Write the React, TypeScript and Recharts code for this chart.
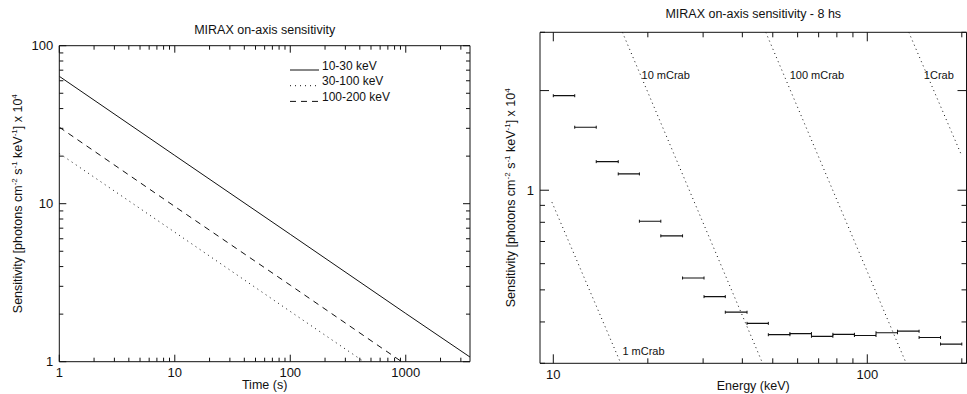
import React from 'react';
import { ComposedChart, Line, XAxis, YAxis, Legend, ReferenceDot } from 'recharts';

const FONT = '"Liberation Sans", Arial, Helvetica, sans-serif';
const INK = '#111';

// left panel: sensitivity vs exposure time
const exposureTimes = [1, 10, 100, 1000, 3600];
const sens10to30 = [64, 20.2, 6.4, 2.02, 1.07];
const sens30to100 = [20.8, 6.6, 2.08, 0.66, 0.35];
const sens100to200 = [30.5, 9.6, 3.05, 0.96, 0.51];

const timeTicks = [1, 2, 3, 4, 5, 6, 7, 8, 9, 10, 20, 30, 40, 50, 60, 70, 80, 90, 100, 200, 300, 400, 500, 600, 700, 800, 900, 1000, 2000, 3000];
const timeMajors = [1, 10, 100, 1000];
const leftSensTicks = [1, 2, 3, 4, 5, 6, 7, 8, 9, 10, 20, 30, 40, 50, 60, 70, 80, 90, 100];
const leftSensMajors = [1, 10, 100];

// right panel: 8 hs spectrum sensitivity
const binEdges = [10, 11.7, 13.7, 16.1, 18.8, 22.0, 25.8, 30.2, 35.3, 41.4, 48.4, 56.7, 66.4, 77.7, 91.0, 106.6, 124.8, 146.2, 171.1, 200];
const binSens = [1.93, 1.55, 1.22, 1.12, 0.806, 0.728, 0.543, 0.477, 0.428, 0.396, 0.366, 0.369, 0.362, 0.367, 0.364, 0.371, 0.375, 0.359, 0.343];

const crab1mE = [9.9, 16.4];
const crab1mS = [0.92, 0.3];
const crab10mE = [16.6, 46.4];
const crab10mS = [3, 0.3];
const crab100mE = [47.5, 133];
const crab100mS = [3, 0.3];
const crab1E = [135.6, 200];
const crab1S = [3, 1.27];

const crabLabels = [
  { text: '1 mCrab', e: 16.6, s: 0.326 },
  { text: '10 mCrab', e: 19.1, s: 2.23 },
  { text: '100 mCrab', e: 56.6, s: 2.23 },
  { text: '1Crab', e: 151.4, s: 2.23 },
];

const energyTicks = [10, 20, 30, 40, 50, 60, 70, 80, 90, 100, 200];
const energyMajors = [10, 100];
const rightSensTicks = [0.3, 0.4, 0.5, 0.6, 0.7, 0.8, 0.9, 1, 2, 3];
const rightSensMajors = [1, 2];
const rightSensLabelled = [1];

const leftRows = exposureTimes.map((t, i) => ({ t, a: sens10to30[i], b: sens30to100[i], c: sens100to200[i] }));

const binRows: Array<{ e: number; s: number | null }> = [];
binSens.forEach((s, i) => {
  binRows.push({ e: binEdges[i], s });
  binRows.push({ e: binEdges[i + 1], s });
  binRows.push({ e: binEdges[i + 1], s: null });
});

const pairRows = (es: number[], ss: number[]) => es.map((e, i) => ({ e, s: ss[i] }));

const legendItems = [
  { label: '10-30 keV', dash: undefined },
  { label: '30-100 keV', dash: '1 4' },
  { label: '100-200 keV', dash: '6 5' },
];

type Side = 'bottom' | 'top' | 'left' | 'right';

const makeTick = (side: Side, majors: number[], labelled: number[], long: number, short: number, fmt = (v: number) => String(v)) =>
  (props: any) => {
    const { x, y, payload } = props;
    const v = payload.value;
    const len = majors.includes(v) ? long : short;
    let tick;
    let label = null;
    if (side === 'bottom') {
      tick = <line x1={x} x2={x} y1={y} y2={y - len} stroke={INK} />;
      if (labelled.includes(v))
        label = <text x={x} y={y + 15.5} textAnchor="middle" fontSize={13} fill={INK} fontFamily={FONT}>{fmt(v)}</text>;
    } else if (side === 'top') {
      tick = <line x1={x} x2={x} y1={y} y2={y + len} stroke={INK} />;
    } else if (side === 'left') {
      tick = <line x1={x} x2={x + len} y1={y} y2={y} stroke={INK} />;
      if (labelled.includes(v))
        label = <text x={x - 6} y={y + 4.6} textAnchor="end" fontSize={13} fill={INK} fontFamily={FONT}>{fmt(v)}</text>;
    } else {
      tick = <line x1={x} x2={x - len} y1={y} y2={y} stroke={INK} />;
    }
    return <g>{tick}{label}</g>;
  };

const sensLabel = (dx: number) => (props: any) => {
  const vb = props.viewBox;
  const cx = vb.x + dx;
  const cy = vb.y + vb.height / 2;
  return (
    <text transform={`translate(${cx},${cy}) rotate(-90)`} textAnchor="middle" fontSize={12.5} fill={INK} fontFamily={FONT}>
      Sensitivity [photons cm<tspan dy={-5} fontSize={8}>-2</tspan>
      <tspan dy={5}> s</tspan><tspan dy={-5} fontSize={8}>-1</tspan>
      <tspan dy={5}> keV</tspan><tspan dy={-5} fontSize={8}>-1</tspan>
      <tspan dy={5}>] x 10</tspan><tspan dy={-5} fontSize={8}>4</tspan>
    </text>
  );
};

const centredLabel = (text: string, dy: number) => (props: any) => {
  const vb = props.viewBox;
  return (
    <text x={vb.x + vb.width / 2} y={vb.y + dy} textAnchor="middle" fontSize={12.5} fill={INK} fontFamily={FONT}>{text}</text>
  );
};

const LegendBox = () => (
  <svg width={130} height={50} style={{ display: 'block' }}>
    {legendItems.map((it, i) => (
      <g key={it.label}>
        <line x1={2} x2={31} y1={13 + i * 15.7} y2={13 + i * 15.7} stroke={INK} strokeDasharray={it.dash} />
        <text x={34} y={12.6 + i * 15.8} fontSize={12} fill={INK} fontFamily={FONT}>{it.label}</text>
      </g>
    ))}
  </svg>
);

const capDot = (props: any) => {
  const { cx, cy, index } = props;
  if (cy == null || isNaN(cy)) return <g key={`d${index}`} />;
  return <line key={`d${index}`} x1={cx} x2={cx} y1={cy - 1.5} y2={cy + 1.5} stroke={INK} />;
};

// axes get 1px boxes (Recharts skips zero-sized axes); margins are reduced by 1 to compensate
const LeftChart = () => (
  <ComposedChart width={480} height={394} data={leftRows} margin={{ top: 44.7, right: 9, bottom: 31.3, left: 58.3 }}>
    <XAxis xAxisId="b" dataKey="t" type="number" scale="log" domain={[1, 3600]} allowDataOverflow ticks={timeTicks} interval={0}
      height={1} tickSize={0} tickMargin={0} tickLine={false} axisLine={{ stroke: INK }}
      tick={makeTick('bottom', timeMajors, timeMajors, 7, 4)} label={centredLabel('Time (s)', 27)} />
    <XAxis xAxisId="t" orientation="top" dataKey="t" type="number" scale="log" domain={[1, 3600]} allowDataOverflow ticks={timeTicks} interval={0}
      height={1} tickSize={0} tickMargin={0} tickLine={false} axisLine={{ stroke: INK }}
      tick={makeTick('top', timeMajors, [], 7, 4)} label={centredLabel('MIRAX on-axis sensitivity', -11)} />
    <YAxis yAxisId="l" type="number" scale="log" domain={[1, 100]} allowDataOverflow ticks={leftSensTicks} interval={0}
      width={1} tickSize={0} tickMargin={0} tickLine={false} axisLine={{ stroke: INK }}
      tick={makeTick('left', leftSensMajors, leftSensMajors, 7, 4)} label={sensLabel(-36.3)} />
    <YAxis yAxisId="r" orientation="right" type="number" scale="log" domain={[1, 100]} allowDataOverflow ticks={leftSensTicks} interval={0}
      width={1} tickSize={0} tickMargin={0} tickLine={false} axisLine={{ stroke: INK }}
      tick={makeTick('right', leftSensMajors, [], 7, 4)} />
    <Legend layout="vertical" align="center" verticalAlign="middle" content={() => <LegendBox />}
      wrapperStyle={{ left: 288, top: 57, width: 130, height: 50 }} />
    <Line xAxisId="b" yAxisId="l" dataKey="a" name="10-30 keV" stroke={INK} strokeWidth={1} dot={false} isAnimationActive={false} />
    <Line xAxisId="b" yAxisId="l" dataKey="b" name="30-100 keV" stroke={INK} strokeWidth={1} strokeDasharray="1 4" dot={false} isAnimationActive={false} />
    <Line xAxisId="b" yAxisId="l" dataKey="c" name="100-200 keV" stroke={INK} strokeWidth={1} strokeDasharray="6 5" dot={false} isAnimationActive={false} />
  </ComposedChart>
);

const crabStyle = { stroke: INK, strokeWidth: 1, strokeDasharray: '1 3.5', dot: false, isAnimationActive: false } as const;

const RightChart = () => (
  <ComposedChart width={478} height={394} margin={{ top: 31.3, right: 0.5, bottom: 29.7, left: 49 }}>
    <XAxis xAxisId="b" dataKey="e" type="number" scale="log" domain={[9.07, 207]} allowDataOverflow ticks={energyTicks} interval={0}
      height={1} tickSize={0} tickMargin={0} tickLine={false} axisLine={{ stroke: INK }}
      tick={makeTick('bottom', energyMajors, energyMajors, 9, 5)} label={centredLabel('Energy (keV)', 26.5)} />
    <XAxis xAxisId="t" orientation="top" dataKey="e" type="number" scale="log" domain={[9.07, 207]} allowDataOverflow ticks={energyTicks} interval={0}
      height={1} tickSize={0} tickMargin={0} tickLine={false} axisLine={{ stroke: INK }}
      tick={makeTick('top', energyMajors, [], 9, 5)} label={centredLabel('MIRAX on-axis sensitivity - 8 hs', -13)} />
    <YAxis yAxisId="l" type="number" scale="log" domain={[0.3, 3]} allowDataOverflow ticks={rightSensTicks} interval={0}
      width={1} tickSize={0} tickMargin={0} tickLine={false} axisLine={{ stroke: INK }}
      tick={makeTick('left', rightSensMajors, rightSensLabelled, 9, 5)} label={sensLabel(-24)} />
    <YAxis yAxisId="r" orientation="right" type="number" scale="log" domain={[0.3, 3]} allowDataOverflow ticks={rightSensTicks} interval={0}
      width={1} tickSize={0} tickMargin={0} tickLine={false} axisLine={{ stroke: INK }}
      tick={makeTick('right', rightSensMajors, [], 9, 5)} />
    <Line xAxisId="b" yAxisId="l" data={pairRows(crab1mE, crab1mS)} dataKey="s" {...crabStyle} />
    <Line xAxisId="b" yAxisId="l" data={pairRows(crab10mE, crab10mS)} dataKey="s" {...crabStyle} />
    <Line xAxisId="b" yAxisId="l" data={pairRows(crab100mE, crab100mS)} dataKey="s" {...crabStyle} />
    <Line xAxisId="b" yAxisId="l" data={pairRows(crab1E, crab1S)} dataKey="s" {...crabStyle} />
    <Line xAxisId="b" yAxisId="l" data={binRows} dataKey="s" stroke={INK} strokeWidth={1.2} connectNulls={false}
      dot={capDot} activeDot={false} isAnimationActive={false} />
    {crabLabels.map((c) => (
      <ReferenceDot key={c.text} xAxisId="b" yAxisId="l" x={c.e} y={c.s} r={0} stroke="none" fill="none"
        label={(p: any) => (
          <text x={p.viewBox.x} y={p.viewBox.y + 4} fontSize={11} fill={INK} fontFamily={FONT}>{c.text}</text>
        )} />
    ))}
  </ComposedChart>
);

export default function App() {
  return (
    <div style={{ position: 'relative', width: 967, height: 394, background: '#fff', fontFamily: FONT, overflow: 'hidden' }}>
      <style>{`body{margin:0}`}</style>
      <div style={{ position: 'absolute', left: 0, top: 0 }}><LeftChart /></div>
      <div style={{ position: 'absolute', left: 490, top: 0 }}><RightChart /></div>
    </div>
  );
}
